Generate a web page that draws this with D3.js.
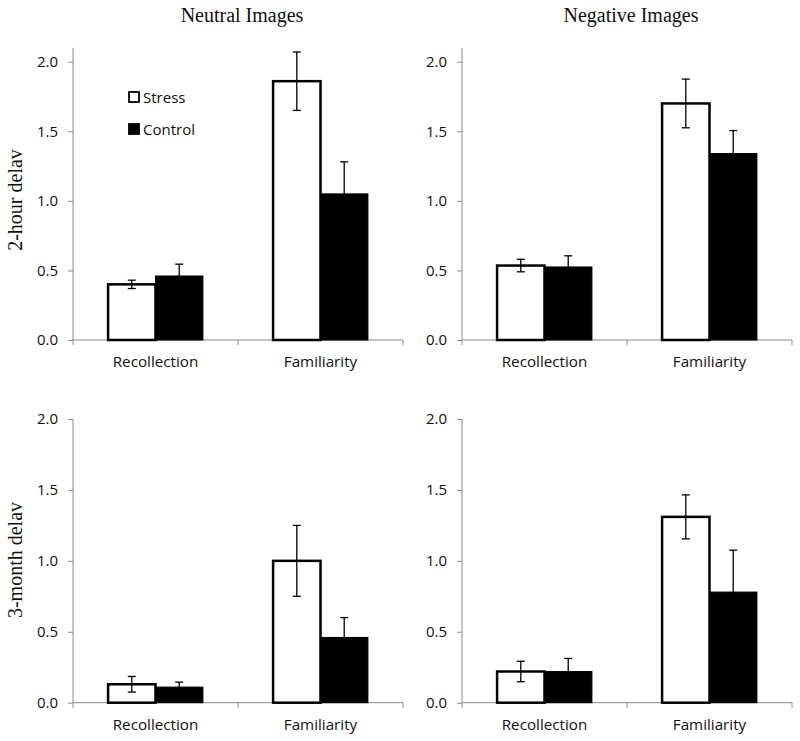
<!DOCTYPE html>
<html>
<head>
<meta charset="utf-8">
<script src="https://cdn.jsdelivr.net/npm/d3@7"></script>
<style>
  body { margin: 0; background: #fff; }
</style>
</head>
<body>
<div id="chart"></div>
<script>
const categories = ['Recollection', 'Familiarity'];
const series = ['Stress', 'Control'];
const columnTitles = ['Neutral Images', 'Negative Images'];
const rowTitles = ['2-hour delav', '3-month delav'];
const yTicks = [0, 0.5, 1.0, 1.5, 2.0];

// means [Recollection, Familiarity] per series, and error bars
const neutral2hStress = [0.40, 1.86];
const neutral2hControl = [0.46, 1.05];
const neutral2hStressErr = [0.03, 0.21];
const neutral2hControlErr = [0.085, 0.23];

const negative2hStress = [0.535, 1.70];
const negative2hControl = [0.525, 1.34];
const negative2hStressErr = [0.045, 0.175];
const negative2hControlErr = [0.08, 0.165];

const neutral3mStress = [0.13, 1.00];
const neutral3mControl = [0.11, 0.46];
const neutral3mStressErr = [0.055, 0.25];
const neutral3mControlErr = [0.035, 0.14];

const negative3mStress = [0.22, 1.31];
const negative3mControl = [0.22, 0.78];
const negative3mStressErr = [0.072, 0.155];
const negative3mControlErr = [0.092, 0.295];

const width = 800;
const height = 741;
const axisColor = '#8a8a8a';
const sans = "'Open Sans', 'Noto Sans', sans-serif";
const serif = "'Liberation Serif', 'DejaVu Serif', serif";

const panels = [
  {left: 73, zeroY: 340, topY: 61.7, yMax: 2.1, stress: neutral2hStress, control: neutral2hControl, se: neutral2hStressErr, ce: neutral2hControlErr, legend: true},
  {left: 462, zeroY: 340, topY: 61.7, yMax: 2.1, stress: negative2hStress, control: negative2hControl, se: negative2hStressErr, ce: negative2hControlErr},
  {left: 73, zeroY: 702.7, topY: 419, yMax: 2.0, stress: neutral3mStress, control: neutral3mControl, se: neutral3mStressErr, ce: neutral3mControlErr},
  {left: 462, zeroY: 702.7, topY: 419, yMax: 2.0, stress: negative3mStress, control: negative3mControl, se: negative3mStressErr, ce: negative3mControlErr}
];

const plotWidth = 330;

const svg = d3.select('#chart')
              .append('svg')
              .attr('width', width)
              .attr('height', height);

const xScale = d3.scaleBand()
                 .domain(categories)
                 .range([0, plotWidth]);

const xInner = d3.scaleBand()
                 .domain(series)
                 .range([0, xScale.bandwidth()])
                 .paddingOuter(0.74);

panels.forEach(p => {
  const yScale = d3.scaleLinear()
                   .domain([0, 2])
                   .range([p.zeroY, p.topY]);

  const g = svg.append('g')
               .attr('transform', 'translate(' + p.left + ',0)');

  //y axis
  const yAxis = d3.axisLeft(yScale)
                  .tickValues(yTicks)
                  .tickFormat(d3.format('.1f'))
                  .tickSize(5)
                  .tickSizeOuter(0)
                  .tickPadding(10);
  const ya = g.append('g').call(yAxis);
  ya.select('.domain').remove();
  ya.append('line')
    .attr('x1', 0).attr('x2', 0)
    .attr('y1', yScale(0)).attr('y2', yScale(p.yMax))
    .attr('stroke', axisColor);
  ya.selectAll('.tick line').attr('stroke', axisColor);
  ya.selectAll('.tick text')
    .attr('fill', '#111')
    .style('font-family', sans)
    .style('font-size', '15px');

  //x axis
  const xa = g.append('g').attr('transform', 'translate(0,' + yScale(0) + ')');
  xa.append('line')
    .attr('x1', 0).attr('x2', plotWidth)
    .attr('stroke', axisColor);
  xa.selectAll('.xtick')
    .data(categories.map(c => xScale(c)).concat([plotWidth]))
    .enter()
    .append('line')
    .attr('x1', d => d).attr('x2', d => d)
    .attr('y1', 0).attr('y2', 5)
    .attr('stroke', axisColor);
  xa.selectAll('.xlabel')
    .data(categories)
    .enter()
    .append('text')
    .text(d => d)
    .attr('x', d => xScale(d) + xScale.bandwidth() / 2)
    .attr('y', 27)
    .attr('text-anchor', 'middle')
    .attr('fill', '#111')
    .style('font-family', sans)
    .style('font-size', '15.2px');

  //bars
  const rows = categories.map((c, i) => ({
    cat: c,
    bars: [
      {s: 'Stress', v: p.stress[i], e: p.se[i]},
      {s: 'Control', v: p.control[i], e: p.ce[i]}
    ]
  }));

  const groups = g.selectAll('.grp')
                  .data(rows)
                  .enter()
                  .append('g')
                  .attr('transform', d => 'translate(' + xScale(d.cat) + ',0)');

  groups.selectAll('rect')
        .data(d => d.bars)
        .enter()
        .append('rect')
        .attr('x', d => xInner(d.s))
        .attr('width', xInner.bandwidth())
        .attr('y', d => yScale(d.v))
        .attr('height', d => yScale(0) - yScale(d.v))
        .attr('fill', d => d.s === 'Stress' ? '#fff' : '#000')
        .attr('stroke', '#000')
        .attr('stroke-width', d => d.s === 'Stress' ? 2.5 : 1);

  //error bars
  const eb = groups.selectAll('.err')
                   .data(d => d.bars)
                   .enter()
                   .append('g')
                   .attr('transform', d => 'translate(' + (xInner(d.s) + xInner.bandwidth() / 2) + ',0)');
  eb.append('line')
    .attr('x1', 0).attr('x2', 0)
    .attr('y1', d => yScale(d.v + d.e))
    .attr('y2', d => yScale(d.v - d.e))
    .attr('stroke', '#000').attr('stroke-width', 1.3);
  [1, -1].forEach(sign => {
    eb.append('line')
      .attr('x1', -4).attr('x2', 4)
      .attr('y1', d => yScale(d.v + sign * d.e))
      .attr('y2', d => yScale(d.v + sign * d.e))
      .attr('stroke', '#000').attr('stroke-width', 1.3);
  });

  //legend
  if (p.legend) {
    const lg = g.selectAll('.leg')
                .data(series)
                .enter()
                .append('g')
                .attr('transform', (d, i) => 'translate(56,' + (92 + i * 32) + ')');
    lg.append('rect')
      .attr('x', 0).attr('y', 0)
      .attr('width', 10).attr('height', 10)
      .attr('fill', d => d === 'Stress' ? '#fff' : '#000')
      .attr('stroke', '#000')
      .attr('stroke-width', 1.8);
    lg.append('text')
      .text(d => d)
      .attr('x', 14)
      .attr('y', 10.5)
      .attr('fill', '#111')
      .style('font-family', sans)
      .style('font-size', '15px');
  }
});

//column titles
svg.selectAll('.ctitle')
   .data(columnTitles)
   .enter()
   .append('text')
   .text(d => d)
   .attr('x', (d, i) => panels[i].left + plotWidth / 2 + 4)
   .attr('y', 22)
   .attr('text-anchor', 'middle')
   .attr('fill', '#111')
   .style('font-family', serif)
   .style('font-size', '20px');

//row titles
svg.selectAll('.rtitle')
   .data(rowTitles)
   .enter()
   .append('text')
   .text(d => d)
   .attr('transform', (d, i) => 'translate(22,' + (i === 0 ? 200 : 560) + ') rotate(-90)')
   .attr('text-anchor', 'middle')
   .attr('fill', '#111')
   .style('font-family', serif)
   .style('font-size', '20px');
</script>
</body>
</html>
